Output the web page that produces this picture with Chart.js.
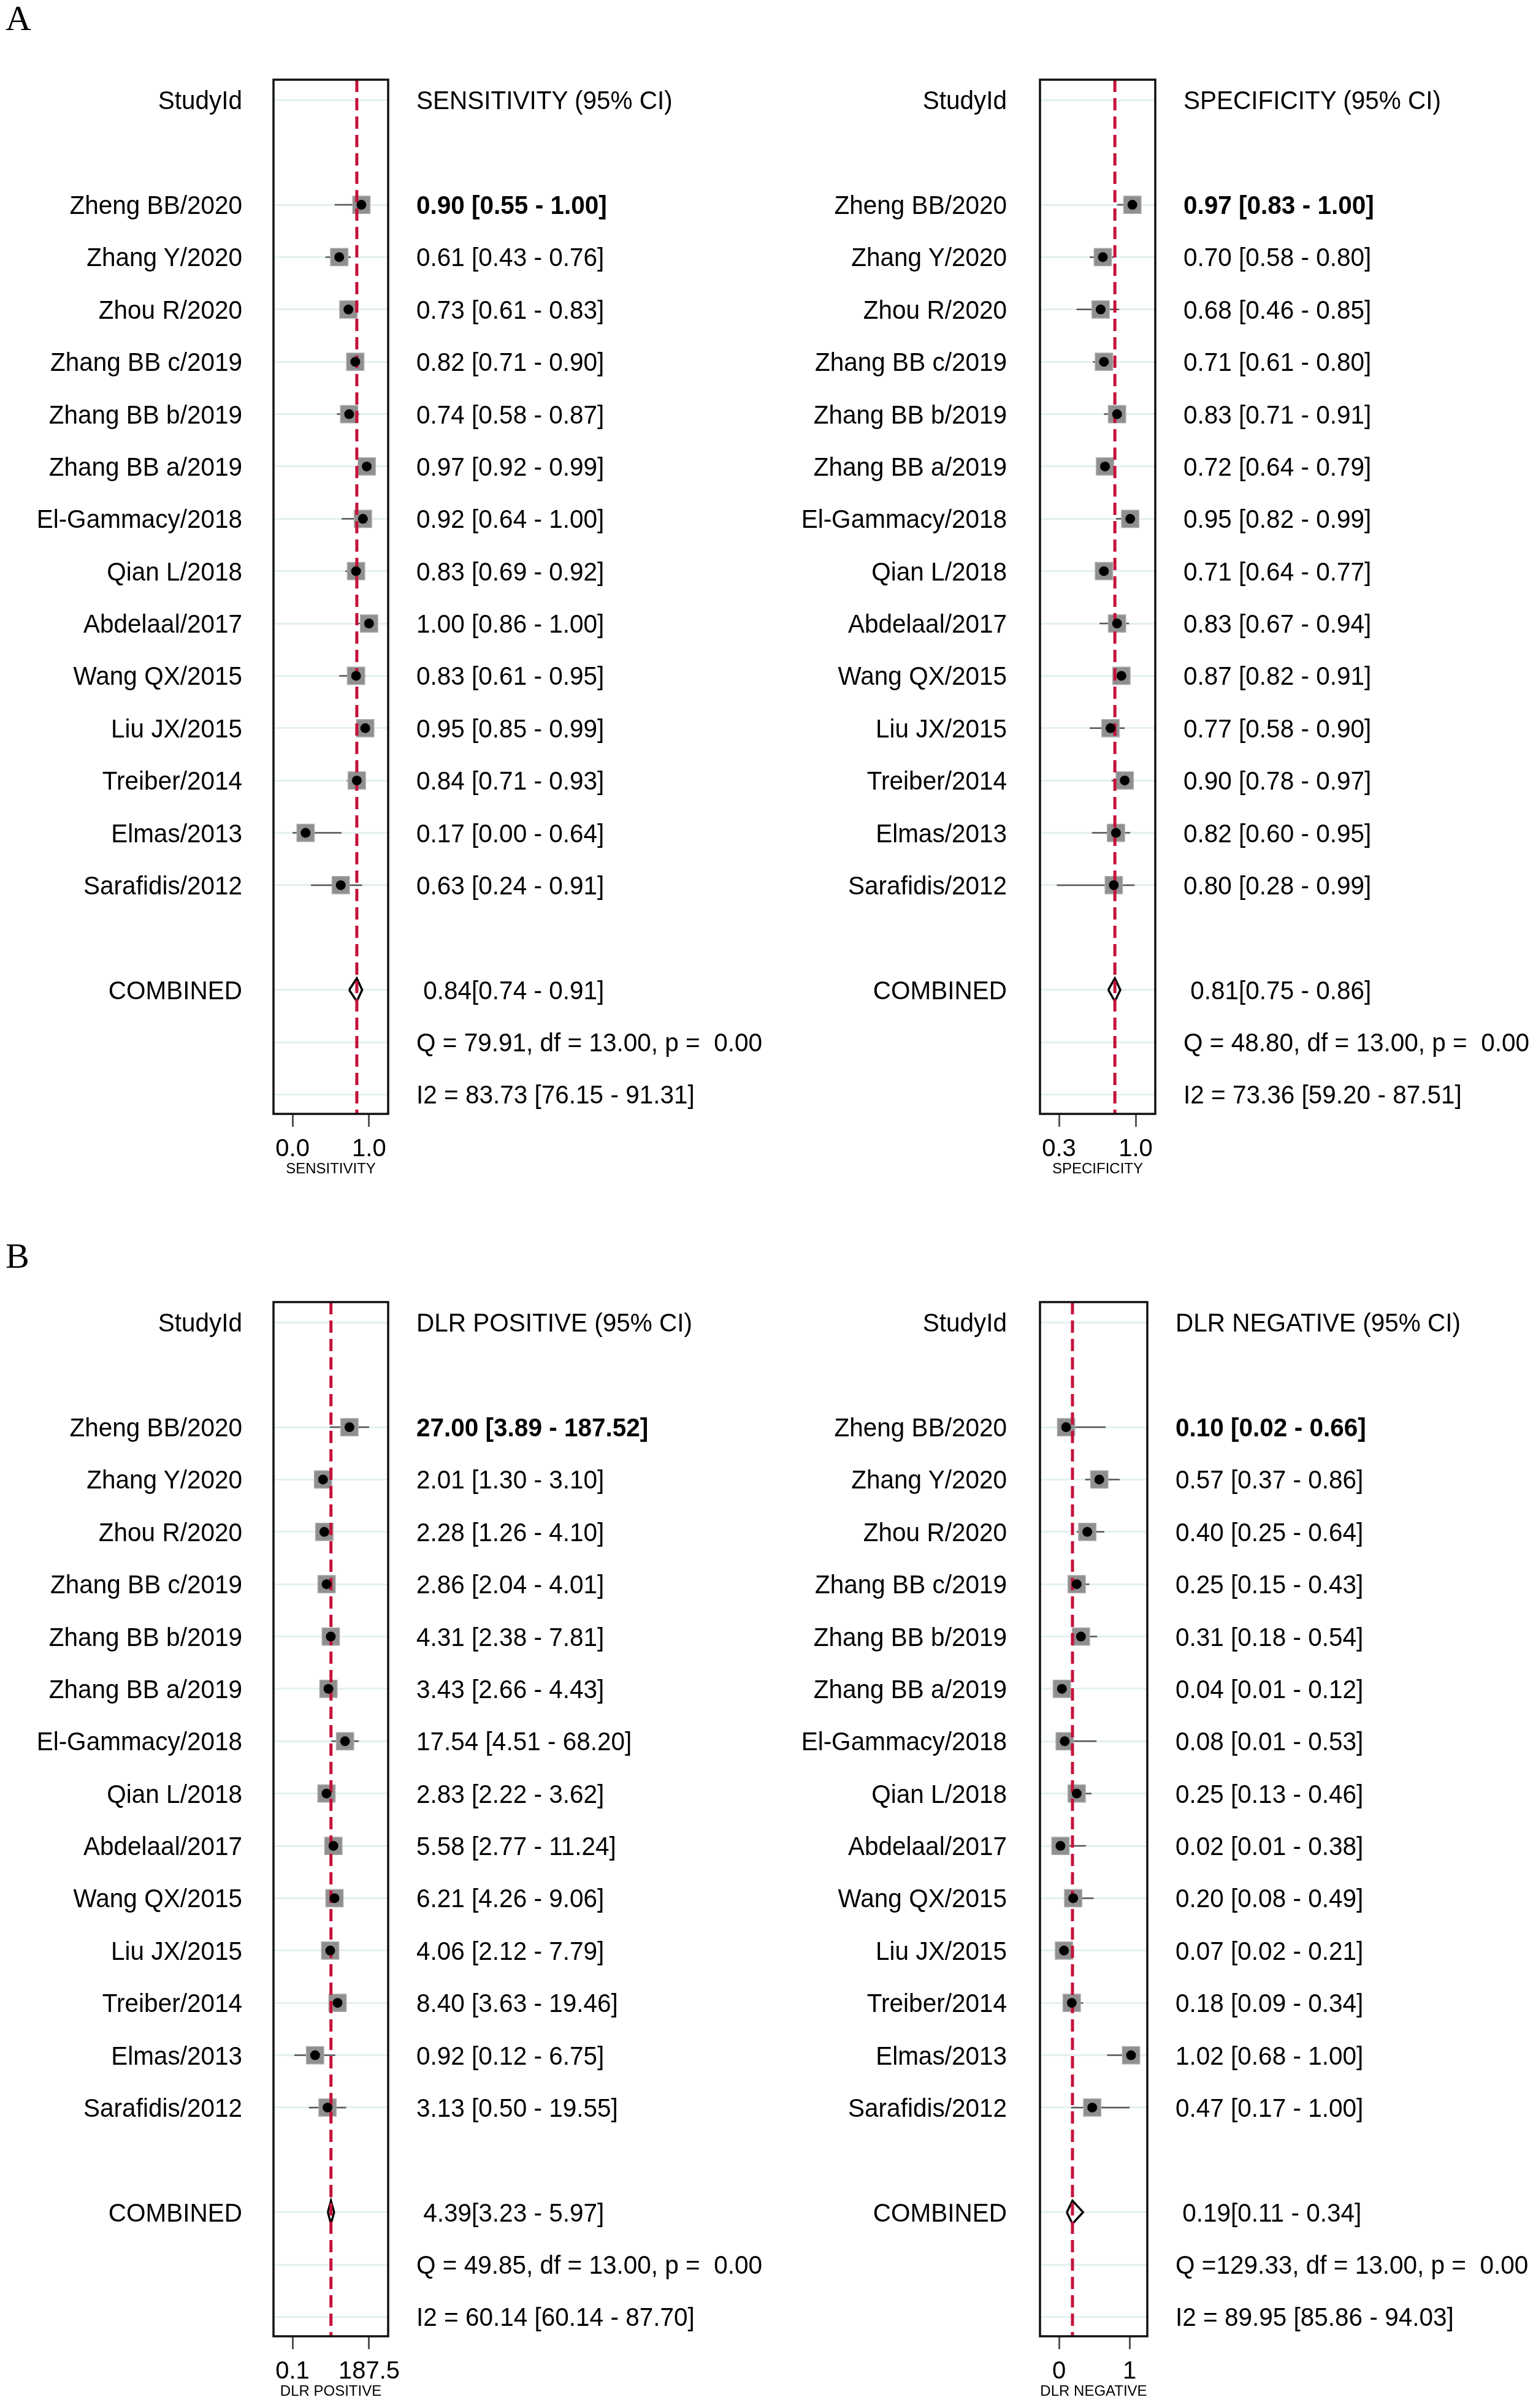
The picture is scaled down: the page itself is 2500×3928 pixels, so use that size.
<!DOCTYPE html>
<html>
<head>
<meta charset="UTF-8">
<title>Forest plots</title>
<script src="https://cdn.jsdelivr.net/npm/chart.js@4.4.1/dist/chart.umd.min.js"></script>
<style>
  body { margin: 0; background: #fff; }
  #page { position: relative; width: 2500px; height: 3928px; background: #fff; overflow: hidden;
          font-family: "Liberation Sans", Arial, sans-serif; color: #000; }
  canvas { position: absolute; }
  .txt { position: absolute; font-size: 40.5px; line-height: 1; white-space: pre; transform: translateY(-50%) scaleY(1.06); }
  .txt.r { transform: translate(-100%, -50%) scaleY(1.06); }
  .txt.b { font-weight: bold; }
  .tag { position: absolute; font-family: "Liberation Serif", "Times New Roman", serif; font-size: 58px; line-height: 1; }
</style>
</head>
<body>
<div id="page">
  <div class="tag" style="left:9px;top:1px">A</div>
  <div class="tag" style="left:9px;top:2020px">B</div>
</div>
<script>
const studies = ['Zheng BB/2020', 'Zhang Y/2020', 'Zhou R/2020', 'Zhang BB c/2019', 'Zhang BB b/2019',
  'Zhang BB a/2019', 'El-Gammacy/2018', 'Qian L/2018', 'Abdelaal/2017', 'Wang QX/2015',
  'Liu JX/2015', 'Treiber/2014', 'Elmas/2013', 'Sarafidis/2012'];

// sensitivity
const sensEst  = [0.90, 0.61, 0.73, 0.82, 0.74, 0.97, 0.92, 0.83, 1.00, 0.83, 0.95, 0.84, 0.17, 0.63];
const sensLow  = [0.55, 0.43, 0.61, 0.71, 0.58, 0.92, 0.64, 0.69, 0.86, 0.61, 0.85, 0.71, 0.00, 0.24];
const sensHigh = [1.00, 0.76, 0.83, 0.90, 0.87, 0.99, 1.00, 0.92, 1.00, 0.95, 0.99, 0.93, 0.64, 0.91];
const sensPooled = [0.84, 0.74, 0.91];
const sensQ = 'Q = 79.91, df = 13.00, p =  0.00';
const sensI2 = 'I2 = 83.73 [76.15 - 91.31]';
const sensTicks = [0, 1];
const sensTickLabels = ['0.0', '1.0'];

// specificity
const specEst  = [0.97, 0.70, 0.68, 0.71, 0.83, 0.72, 0.95, 0.71, 0.83, 0.87, 0.77, 0.90, 0.82, 0.80];
const specLow  = [0.83, 0.58, 0.46, 0.61, 0.71, 0.64, 0.82, 0.64, 0.67, 0.82, 0.58, 0.78, 0.60, 0.28];
const specHigh = [1.00, 0.80, 0.85, 0.80, 0.91, 0.79, 0.99, 0.77, 0.94, 0.91, 0.90, 0.97, 0.95, 0.99];
const specPooled = [0.81, 0.75, 0.86];
const specQ = 'Q = 48.80, df = 13.00, p =  0.00';
const specI2 = 'I2 = 73.36 [59.20 - 87.51]';
const specTicks = [0.3, 1.0];
const specTickLabels = ['0.3', '1.0'];

// DLR positive
const dlrpEst  = [27.00, 2.01, 2.28, 2.86, 4.31, 3.43, 17.54, 2.83, 5.58, 6.21, 4.06, 8.40, 0.92, 3.13];
const dlrpLow  = [3.89, 1.30, 1.26, 2.04, 2.38, 2.66, 4.51, 2.22, 2.77, 4.26, 2.12, 3.63, 0.12, 0.50];
const dlrpHigh = [187.52, 3.10, 4.10, 4.01, 7.81, 4.43, 68.20, 3.62, 11.24, 9.06, 7.79, 19.46, 6.75, 19.55];
const dlrpPooled = [4.39, 3.23, 5.97];
const dlrpQ = 'Q = 49.85, df = 13.00, p =  0.00';
const dlrpI2 = 'I2 = 60.14 [60.14 - 87.70]';
const dlrpTicks = [0.1, 187.5];
const dlrpTickLabels = ['0.1', '187.5'];

// DLR negative
const dlrnEst  = [0.10, 0.57, 0.40, 0.25, 0.31, 0.04, 0.08, 0.25, 0.02, 0.20, 0.07, 0.18, 1.02, 0.47];
const dlrnLow  = [0.02, 0.37, 0.25, 0.15, 0.18, 0.01, 0.01, 0.13, 0.01, 0.08, 0.02, 0.09, 0.68, 0.17];
const dlrnHigh = [0.66, 0.86, 0.64, 0.43, 0.54, 0.12, 0.53, 0.46, 0.38, 0.49, 0.21, 0.34, 1.00, 1.00];
const dlrnPooled = [0.19, 0.11, 0.34];
const dlrnQ = 'Q =129.33, df = 13.00, p =  0.00';
const dlrnI2 = 'I2 = 89.95 [85.86 - 94.03]';
const dlrnTicks = [0, 1];
const dlrnTickLabels = ['0', '1'];

Chart.defaults.font.family = '"Liberation Sans", Arial, sans-serif';

const page = document.getElementById('page');
// row slots: 0 header, 2..15 studies, 17 combined, 18 Q, 19 I2
const gridRows = [0, 2, 3, 4, 5, 6, 7, 8, 9, 10, 11, 12, 13, 14, 15, 17, 18, 19];

const boxPlugin = {
  id: 'box',
  afterDatasetsDraw(chart) {
    const a = chart.chartArea, ctx = chart.ctx;
    ctx.save();
    ctx.strokeStyle = '#111';
    ctx.lineWidth = 3.5;
    ctx.strokeRect(a.left, a.top, a.right - a.left, a.bottom - a.top);
    ctx.restore();
  }
};

function fmt(v) { return v.toFixed(2); }

function addText(text, x, y, cls) {
  const d = document.createElement('div');
  d.className = 'txt ' + (cls || '');
  d.textContent = text;
  d.style.left = x + 'px';
  d.style.top = y + 'px';
  page.appendChild(d);
}

function makePanel(p) {
  const canvas = document.createElement('canvas');
  canvas.width = 1250; canvas.height = 1930;
  canvas.style.left = p.left + 'px';
  canvas.style.top = p.top + 'px';
  page.appendChild(canvas);

  const rows = studies.map((_, i) => i + 2);
  const points = p.est.map((v, i) => ({x: v, y: rows[i]}));
  const ci = [];
  p.est.forEach((_, i) => {
    ci.push({x: p.low[i], y: rows[i]}, {x: p.high[i], y: rows[i]}, {x: p.low[i], y: null});
  });
  const [pe, pl, ph] = p.pooled;
  const diamond = [{x: pl, y: 17}, {x: pe, y: 16.78}, {x: ph, y: 17}, {x: pe, y: 17.22}, {x: pl, y: 17}];
  const refLine = [{x: pe, y: -0.39}, {x: pe, y: 19.37}];

  const chart = new Chart(canvas, {
    type: 'scatter',
    data: {
      datasets: [
        { data: points, pointStyle: 'circle', pointRadius: 8, backgroundColor: '#000', borderWidth: 0, order: 0 },
        { data: refLine, showLine: true, borderColor: '#c5123a', borderWidth: 5, borderDash: [20, 10], pointRadius: 0, order: 1 },
        { data: diamond, showLine: true, borderColor: '#000', borderWidth: 3.5, pointRadius: 0, order: 2 },
        { data: points, pointStyle: 'rect', pointRadius: 20, backgroundColor: '#8f8f8f', borderColor: '#a8a8a8', borderWidth: 1.5, order: 3 },
        { data: ci, showLine: true, spanGaps: false, borderColor: '#555', borderWidth: 2.5, pointRadius: 0, order: 4 }
      ]
    },
    options: {
      responsive: false,
      animation: false,
      devicePixelRatio: 1,
      events: [],
      layout: { padding: { left: 446, right: 1250 - p.boxRight, top: 130, bottom: 8 } },
      plugins: { legend: { display: false }, tooltip: { enabled: false } },
      scales: {
        x: {
          type: p.xType, min: p.xMin, max: p.xMax, position: 'bottom',
          afterFit: s => { s.height = 105; },
          afterBuildTicks: s => { s.ticks = p.ticks.map(v => ({value: v})); },
          ticks: { callback: (v, i) => p.tickLabels[i], font: { size: 40 }, color: '#000',
                   padding: 13, autoSkip: false, maxRotation: 0 },
          grid: { drawOnChartArea: false, drawTicks: true, tickLength: 21, color: '#555', lineWidth: 3 },
          border: { display: false },
          title: { display: true, text: p.title, font: { size: 24 }, color: '#000', padding: 0 }
        },
        y: {
          type: 'linear', min: -0.39, max: 19.37, reverse: true,
          afterFit: s => { s.width = 0; },
          afterBuildTicks: s => { s.ticks = gridRows.map(v => ({value: v})); },
          ticks: { display: false },
          grid: { drawTicks: false, color: '#e4f0f0', lineWidth: 3 },
          border: { display: false }
        }
      }
    },
    plugins: [boxPlugin]
  });

  const ys = chart.scales.y;
  const rowY = r => p.top + ys.getPixelForValue(r);
  const labelX = p.left + p.labelRight;
  const valueX = p.left + p.boxRight + 46;
  addText('StudyId', labelX, rowY(0), 'r');
  addText(p.header, valueX, rowY(0));
  studies.forEach((s, i) => {
    addText(s, labelX, rowY(rows[i]), 'r');
    addText(fmt(p.est[i]) + ' [' + fmt(p.low[i]) + ' - ' + fmt(p.high[i]) + ']', valueX, rowY(rows[i]), i === 0 ? 'b' : '');
  });
  addText('COMBINED', labelX, rowY(17), 'r');
  addText(' ' + fmt(pe) + '[' + fmt(pl) + ' - ' + fmt(ph) + ']', valueX, rowY(17));
  addText(p.q, valueX, rowY(18));
  addText(p.i2, valueX, rowY(19));
}

makePanel({ left: 0, top: 0, boxRight: 633, labelRight: 395, xType: 'linear', xMin: -0.25, xMax: 1.25,
  est: sensEst, low: sensLow, high: sensHigh, pooled: sensPooled, q: sensQ, i2: sensI2,
  ticks: sensTicks, tickLabels: sensTickLabels, title: 'SENSITIVITY', header: 'SENSITIVITY (95% CI)' });

makePanel({ left: 1250, top: 0, boxRight: 634, labelRight: 392, xType: 'linear', xMin: 0.126, xMax: 1.179,
  est: specEst, low: specLow, high: specHigh, pooled: specPooled, q: specQ, i2: specI2,
  ticks: specTicks, tickLabels: specTickLabels, title: 'SPECIFICITY', header: 'SPECIFICITY (95% CI)' });

makePanel({ left: 0, top: 1994, boxRight: 633, labelRight: 395, xType: 'logarithmic', xMin: 0.0154, xMax: 1217,
  est: dlrpEst, low: dlrpLow, high: dlrpHigh, pooled: dlrpPooled, q: dlrpQ, i2: dlrpI2,
  ticks: dlrpTicks, tickLabels: dlrpTickLabels, title: 'DLR POSITIVE', header: 'DLR POSITIVE (95% CI)' });

makePanel({ left: 1250, top: 1994, boxRight: 621, labelRight: 392, xType: 'linear', xMin: -0.27, xMax: 1.25,
  est: dlrnEst, low: dlrnLow, high: dlrnHigh, pooled: dlrnPooled, q: dlrnQ, i2: dlrnI2,
  ticks: dlrnTicks, tickLabels: dlrnTickLabels, title: 'DLR NEGATIVE', header: 'DLR NEGATIVE (95% CI)' });
</script>
</body>
</html>
